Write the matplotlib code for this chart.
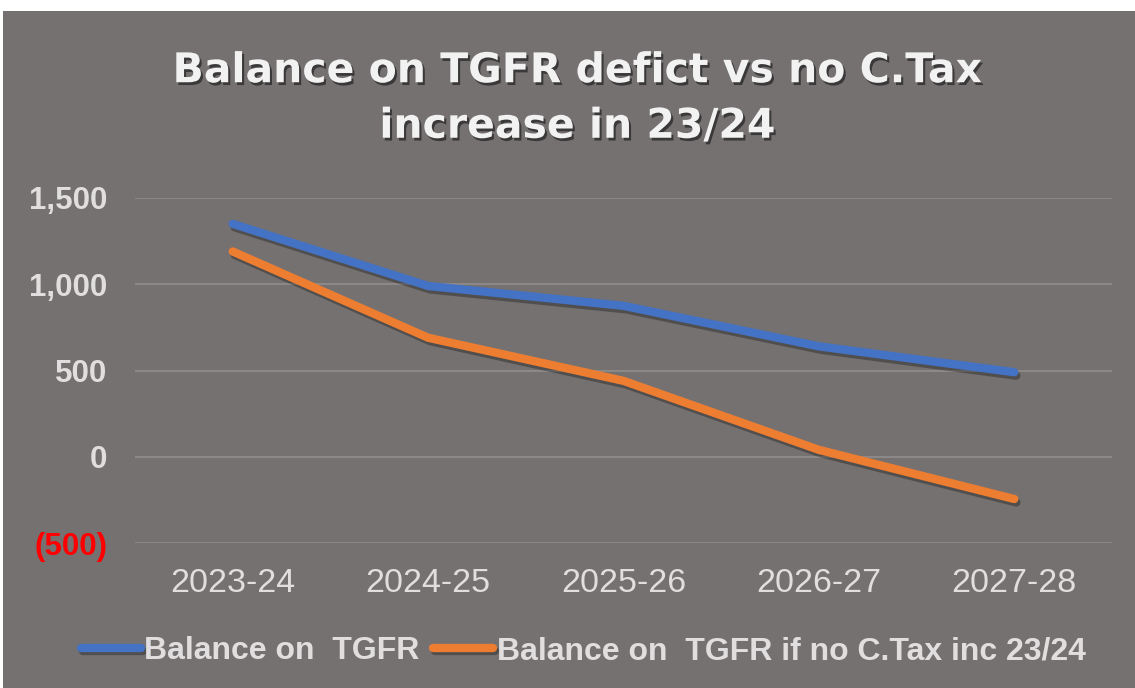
import matplotlib.pyplot as plt
import matplotlib.patheffects as pe
from matplotlib.patches import Rectangle
from matplotlib.ticker import FuncFormatter

# data
years = ['2023-24', '2024-25', '2025-26', '2026-27', '2027-28']
balance_tgfr = [1350, 990, 875, 640, 490]
balance_no_ctax = [1190, 690, 440, 40, -245]
series_labels = ['Balance on  TGFR', 'Balance on  TGFR if no C.Tax inc 23/24']

BG = '#757171'
GRID = '#8c8888'
TXT = '#e0dede'
BLUE = '#4472c4'
ORANGE = '#ed7d31'

W, H = 1135, 688
fig = plt.figure(figsize=(W / 100, H / 100), dpi=100)
fig.patch.set_facecolor('white')
# gray chart panel, white margin at top/left like the screenshot
fig.patches.append(Rectangle((3 / W, 0), 1 - 3 / W, 1 - 11 / H,
                             transform=fig.transFigure, facecolor=BG,
                             edgecolor='none', zorder=-10))

ax = fig.add_axes([135 / W, 1 - 543 / H, (1112 - 135) / W, (543 - 198) / H])
ax.set_zorder(1)
ax.set_facecolor('none')
ax.set_xlim(-0.5, len(years) - 0.5)
ax.set_ylim(-500, 1500)
ax.set_yticks([-500, 0, 500, 1000, 1500])
ax.yaxis.set_major_formatter(FuncFormatter(
    lambda v, _: f'({abs(v):,.0f})' if v < 0 else f'{v:,.0f}'))
ax.grid(axis='y', color=GRID, linewidth=1.5)
ax.set_axisbelow(True)
for s in ax.spines.values():
    s.set_visible(False)
ax.tick_params(length=0)

shadow = [pe.SimpleLineShadow(offset=(1.5, -2.5), alpha=0.3, shadow_color='black'), pe.Normal()]
x = list(range(len(years)))
ax.plot(x, balance_tgfr, color=BLUE, lw=6, solid_capstyle='round',
        solid_joinstyle='round', label=series_labels[0], path_effects=shadow,
        clip_on=False)
ax.plot(x, balance_no_ctax, color=ORANGE, lw=6, solid_capstyle='round',
        solid_joinstyle='round', label=series_labels[1], path_effects=shadow,
        clip_on=False)

ax.set_xticks(x)
ax.set_xticklabels(years, fontsize=24.5, color=TXT, family='Liberation Sans')
ax.tick_params(axis='x', pad=18)
ax.tick_params(axis='y', pad=20)
for lab in ax.get_yticklabels():
    lab.set_fontsize(22.5)
    lab.set_fontweight('bold')
    lab.set_family('Liberation Sans')
    lab.set_color('#ff0000' if lab.get_text().startswith('(') else TXT)

title_fx = [pe.SimplePatchShadow(offset=(1.5, -2), alpha=0.5, shadow_rgbFace='black'), pe.Normal()]
fig.text(578 / W, 1 - 99 / H, 'Balance on TGFR defict vs no C.Tax\nincrease in 23/24',
         ha='center', va='center', fontsize=29.5, color='#f2f2f2',
         family='DejaVu Sans', fontweight='bold', linespacing=1.5,
         path_effects=title_fx)

leg = fig.legend(loc='center', bbox_to_anchor=(583 / W, 1 - 651 / H), ncol=2,
                 frameon=False, handlelength=1.9, handletextpad=0.1,
                 columnspacing=0.4,
                 prop={'family': 'Liberation Sans', 'weight': 'bold', 'size': 23})
for t in leg.get_texts():
    t.set_color(TXT)

fig.savefig('out.png', dpi=100, facecolor=fig.get_facecolor())
